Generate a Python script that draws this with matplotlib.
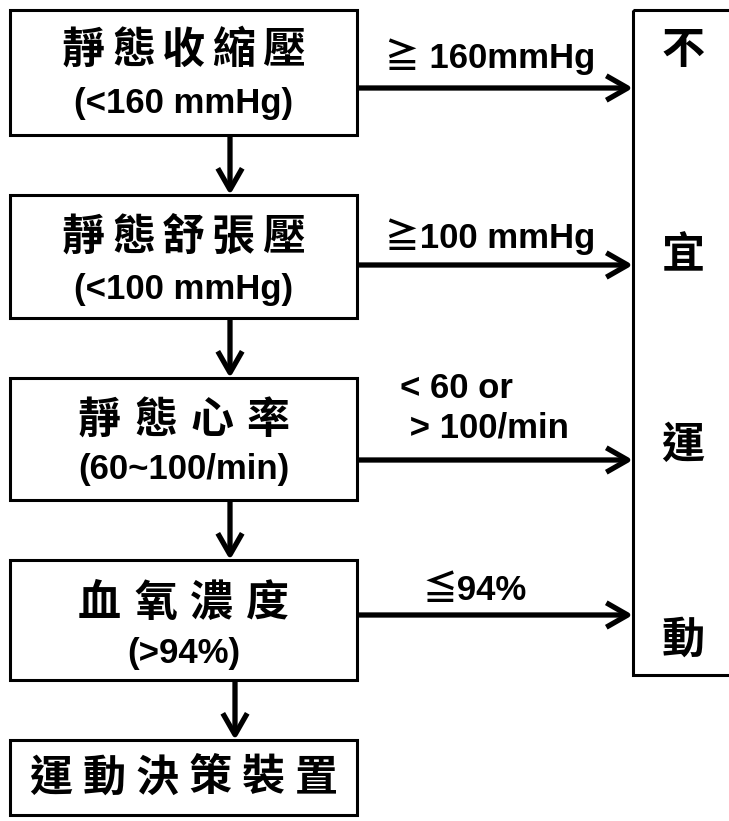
import matplotlib
matplotlib.use("Agg")
import matplotlib.pyplot as plt
from matplotlib.patches import Rectangle

# ---- content ----
titles = ['靜態收縮壓', '靜態舒張壓', '靜態心率', '血氧濃度']
ranges = ['(<160 mmHg)', '(<100 mmHg)', '(60~100/min)', '(>94%)']
exits = ['≧ 160mmHg', '≧100 mmHg', '< 60 or\n > 100/min', '≦94%']
final_label = '運動決策裝置'
verdict = ['不', '宜', '運', '動']

# ---- layout (pixel space) ----
W, H = 729, 821
box_x0, box_x1 = 10, 357
box_tops = [10, 195, 378, 560]
box_bots = [135, 318, 500, 680]
title_y = [50, 237, 420, 603]
range_y = [104, 289, 470, 654]
arrow_y = [88, 265, 460, 615]
label_pos = [(490, 57, 'center'), (490, 237, 'center'), (400, 408, 'left'),
             (475, 590, 'center')]
down_x = [230, 230, 230, 235]
final_top, final_bot = 740, 815
right_x0, right_top, right_bot = 633, 10, 675
verdict_y = [50, 255, 445, 640]

CJK = ['Noto Sans CJK TC', 'DejaVu Sans']
LAT = ['Liberation Sans', 'Noto Sans CJK TC', 'DejaVu Sans']

fig = plt.figure(figsize=(W / 100, H / 100), dpi=100)
ax = fig.add_axes([0, 0, 1, 1])
ax.set_xlim(0, W)
ax.set_ylim(H, 0)
ax.axis('off')

lw_box = 2.2
lw_arr = 3.8


def spaced(text, cx, cy, pitch, size):
    n = len(text)
    start = cx - pitch * (n - 1) / 2
    for i, ch in enumerate(text):
        ax.text(start + i * pitch, cy, ch, ha='center', va='center',
                fontsize=size, fontweight='bold', family=CJK)


def arrow(x0, y0, x1, y1):
    ax.annotate('', xy=(x1, y1), xytext=(x0, y0),
                arrowprops=dict(arrowstyle='->,head_length=0.7,head_width=0.4',
                                lw=lw_arr, color='black', mutation_scale=22,
                                shrinkA=0, shrinkB=0, capstyle='butt'))


cx = (box_x0 + box_x1) / 2
for i in range(len(titles)):
    ax.add_patch(Rectangle((box_x0, box_tops[i]), box_x1 - box_x0,
                           box_bots[i] - box_tops[i], fill=False,
                           lw=lw_box, ec='black'))
    pitch = 50 if len(titles[i]) == 5 else 56
    spaced(titles[i], cx, title_y[i], pitch, 31)
    ax.text(cx, range_y[i], ranges[i], ha='center', va='center',
            fontsize=25, fontweight='bold', family=LAT)
    arrow(box_x1, arrow_y[i], right_x0, arrow_y[i])
    lx, ly, lha = label_pos[i]
    ax.text(lx, ly, exits[i], ha=lha, va='center', fontsize=25,
            fontweight='bold', family=LAT, linespacing=1.25,
            multialignment='left')
    nxt = box_tops[i + 1] if i + 1 < len(titles) else final_top
    arrow(down_x[i], box_bots[i], down_x[i], nxt)

ax.add_patch(Rectangle((box_x0, final_top), box_x1 - box_x0,
                       final_bot - final_top, fill=False, lw=lw_box, ec='black'))
spaced(final_label, cx, (final_top + final_bot) / 2, 53, 31)

ax.add_patch(Rectangle((right_x0, right_top), W + 20 - right_x0,
                       right_bot - right_top, fill=False, lw=lw_box,
                       ec='black', clip_on=True))
for ch, y in zip(verdict, verdict_y):
    ax.text(683, y, ch, ha='center', va='center', fontsize=31,
            fontweight='bold', family=CJK)

fig.savefig('out.png', dpi=100, facecolor='white')
